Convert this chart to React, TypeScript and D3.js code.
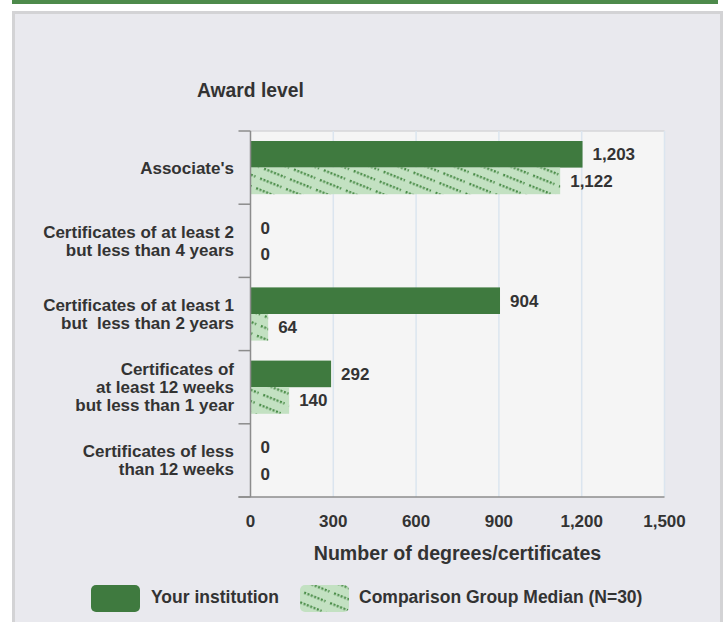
import React from 'react';
import * as d3 from 'd3';

// chart values
const categories = [
  ["Associate's"],
  ['Certificates of at least 2', 'but less than 4 years'],
  ['Certificates of at least 1', 'but  less than 2 years'],
  ['Certificates of', 'at least 12 weeks', 'but less than 1 year'],
  ['Certificates of less', 'than 12 weeks'],
];
const institutionValues = [1203, 0, 904, 292, 0];
const comparisonValues = [1122, 0, 64, 140, 0];
const seriesNames = ['Your institution', 'Comparison Group Median (N=30)'];
const xTicks = [0, 300, 600, 900, 1200, 1500];

const W = 725;
const H = 622;
const plot = { left: 250.5, right: 664.5, top: 131, bottom: 497 };
const font = '"Liberation Sans", Arial, sans-serif';
const textColor = '#333';
const darkGreen = '#3f7a3f';

export default function App() {
  const x = d3.scaleLinear().domain([0, 1500]).range([plot.left, plot.right]);
  const y = d3
    .scaleBand<number>()
    .domain(d3.range(categories.length))
    .range([plot.top, plot.bottom])
    .padding(0);
  const inner = d3
    .scaleBand<number>()
    .domain([0, 1])
    .range([0, y.bandwidth()])
    .paddingInner(0)
    .paddingOuter(0.376);
  const fmt = d3.format(',');
  const boundaries = d3.range(categories.length + 1).map((i) => plot.top + i * y.step());
  const series = [institutionValues, comparisonValues];
  const fills = [darkGreen, 'url(#hatch)'];

  return (
    <svg
      width={W}
      height={H}
      style={{ position: 'absolute', left: 0, top: 0, fontFamily: font }}
    >
      <defs>
        <pattern
          id="hatch"
          patternUnits="userSpaceOnUse"
          width={28}
          height={10.5}
          patternTransform="rotate(22)"
        >
          <rect width={28} height={10.5} fill="#c3e1c2" />
          <line
            x1={0}
            y1={5}
            x2={23}
            y2={5}
            stroke="#4a8c48"
            strokeWidth={2.4}
            strokeDasharray="2 1.6"
          />
        </pattern>
      </defs>

      {/* header strip and panel */}
      <rect x={12} y={0} width={706} height={4} fill="#4d8a4b" />
      <rect x={13.5} y={12.5} width={708} height={640} fill="#e9e9ee" stroke="#d3d3d5" strokeWidth={3} />

      {/* plot area */}
      <rect
        x={plot.left}
        y={plot.top}
        width={plot.right - plot.left}
        height={plot.bottom - plot.top}
        fill="#f5f5f5"
      />
      <line x1={plot.left} x2={plot.right} y1={plot.top} y2={plot.top} stroke="#d6d6d8" strokeWidth={1.5} />
      {xTicks.slice(1).map((t) => (
        <line key={t} x1={x(t)} x2={x(t)} y1={plot.top} y2={plot.bottom} stroke="#dbe5ef" strokeWidth={1.5} />
      ))}

      {/* bars */}
      {series.map((vals, s) =>
        vals.map((v, i) => (
          <rect
            key={`${s}-${i}`}
            x={x(0)}
            y={(y(i) as number) + (inner(s) as number)}
            width={x(v) - x(0)}
            height={inner.bandwidth()}
            fill={fills[s]}
          />
        ))
      )}

      {/* value labels */}
      {series.map((vals, s) =>
        vals.map((v, i) => (
          <text
            key={`l${s}-${i}`}
            x={x(v) + 10}
            y={(y(i) as number) + (inner(s) as number) + inner.bandwidth() / 2 + 6}
            fontSize={17}
            fontWeight="bold"
            fill={textColor}
          >
            {fmt(v)}
          </text>
        ))
      )}

      {/* axes */}
      <line x1={plot.left} x2={plot.left} y1={plot.top} y2={plot.bottom} stroke="#8c8c8c" strokeWidth={1.5} />
      <line x1={plot.left - 12} x2={plot.right} y1={plot.bottom} y2={plot.bottom} stroke="#8c8c8c" strokeWidth={1.5} />
      {boundaries.map((b) => (
        <line key={b} x1={plot.left - 12} x2={plot.left} y1={b} y2={b} stroke="#8c8c8c" strokeWidth={1.5} />
      ))}

      {/* category labels */}
      {categories.map((lines, i) => {
        const cy = (y(i) as number) + y.bandwidth() / 2;
        const lh = 18;
        const first = cy - ((lines.length - 1) * lh) / 2 + 6;
        return (
          <text
            key={i}
            x={234}
            textAnchor="end"
            fontSize={17}
            fontWeight="bold"
            fill={textColor}
            style={{ whiteSpace: 'pre' }}
          >
            {lines.map((ln, k) => (
              <tspan key={k} x={234} y={first + k * lh}>
                {ln}
              </tspan>
            ))}
          </text>
        );
      })}

      {/* x tick labels */}
      {xTicks.map((t) => (
        <text key={t} x={x(t)} y={527} textAnchor="middle" fontSize={17} fontWeight="bold" fill={textColor}>
          {fmt(t)}
        </text>
      ))}

      <text x={(plot.left + plot.right) / 2} y={560} textAnchor="middle" fontSize={19.6} fontWeight="bold" fill={textColor}>
        Number of degrees/certificates
      </text>
      <text x={197} y={97} fontSize={19.3} fontWeight="bold" fill={textColor}>
        Award level
      </text>

      {/* legend */}
      <rect x={91} y={585} width={49} height={27} rx={5} fill={darkGreen} />
      <text x={151} y={603} fontSize={17.5} fontWeight="bold" fill={textColor}>
        {seriesNames[0]}
      </text>
      <rect x={300} y={585} width={49} height={27} rx={5} fill="url(#hatch)" />
      <text x={359} y={603} fontSize={17.5} fontWeight="bold" fill={textColor}>
        {seriesNames[1]}
      </text>
    </svg>
  );
}
